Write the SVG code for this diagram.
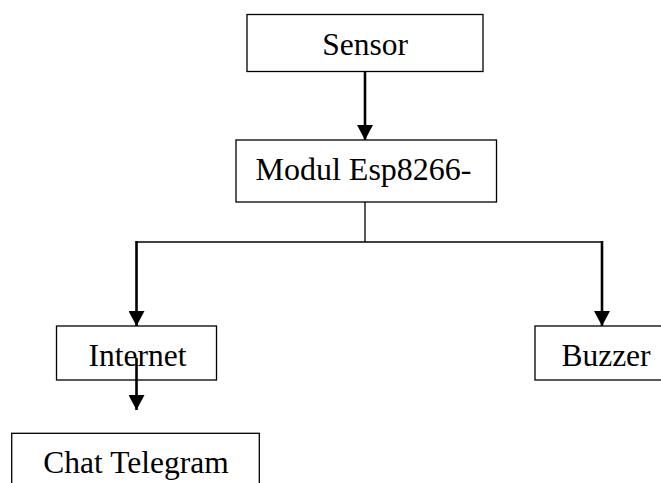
<svg xmlns="http://www.w3.org/2000/svg" width="661" height="483" viewBox="0 0 661 483">
<defs>
<style>
.box{fill:#fff;stroke:#000;stroke-width:1.3}
.lbl{font-family:"Liberation Serif","Times New Roman",serif;font-size:31.5px;fill:#000;text-anchor:middle}
.arr{stroke:#000;stroke-width:2.6;fill:none}
.thin{stroke:#000;stroke-width:1.3;fill:none}
</style>
<marker id="ah" markerUnits="userSpaceOnUse" markerWidth="16" markerHeight="16" viewBox="0 0 16 16" refX="15" refY="8" orient="auto">
<path d="M0,0 L15,8 L0,16 Z" fill="#000"/>
</marker>
</defs>
<rect width="661" height="483" fill="#fff"/>
<g id="sensor"><rect class="box" x="247" y="14.5" width="236" height="57"/><text class="lbl" x="365" y="55">Sensor</text></g>
<g id="modul"><rect class="box" x="236" y="140" width="260.5" height="62"/><text class="lbl" x="363.5" y="180" style="font-size:32px">Modul Esp8266-</text></g>
<g id="internet"><rect class="box" x="56.5" y="326" width="160" height="54"/><text class="lbl" x="137.5" y="365.5">Internet</text></g>
<g id="buzzer"><rect class="box" x="535" y="326" width="140" height="54"/><text class="lbl" x="606" y="365.5">Buzzer</text></g>
<g id="chat"><rect class="box" x="11.7" y="433.3" width="247.6" height="70"/><text class="lbl" x="136" y="473">Chat Telegram</text></g>
<g id="connectors">
<line class="arr" x1="365" y1="72" x2="365" y2="140" marker-end="url(#ah)"/>
<polyline class="thin" points="365,202 365,242"/>
<line class="thin" x1="136.5" y1="242" x2="602" y2="242"/>
<line class="arr" x1="136.5" y1="241" x2="136.5" y2="326" marker-end="url(#ah)"/>
<line class="arr" x1="602" y1="241" x2="602" y2="326" marker-end="url(#ah)"/>
<line class="arr" x1="136.5" y1="358" x2="136.5" y2="410" marker-end="url(#ah)"/>
</g>
</svg>
